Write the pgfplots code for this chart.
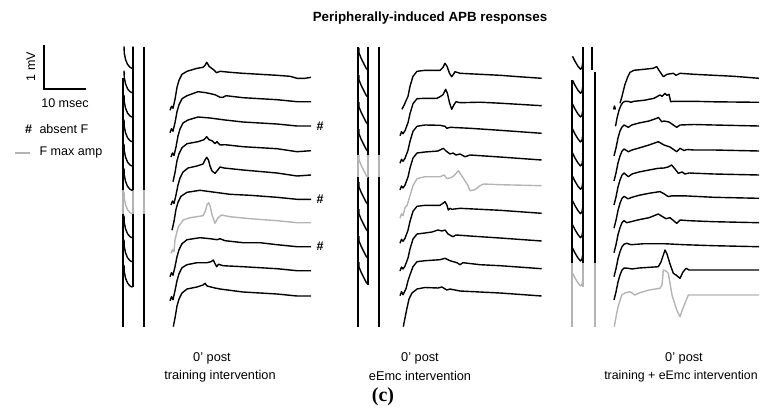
\documentclass[border=0pt]{standalone}
\usepackage{pgfplots}
\pgfplotsset{compat=1.18}
\usepackage{pgfplotstable}
\usepackage{fontspec}
\setmainfont{Liberation Sans}
\newfontfamily\serif{Liberation Serif}
\definecolor{fgray}{HTML}{B4B4B4}
% hook shapes of the stimulus artefacts (x absolute, y relative to hook bottom)
\pgfplotstableread{
x y
124 -22
124.3 -15
125.5 -9
127.5 -4
130 -1
132 0
133 -1
133 -22
}\hookA
\pgfplotstableread{
x y
359 -22
359 -17
361 -12
364 -6
366 -2
367.5 0
368 -2
368 -22
}\hookB
\pgfplotstableread{
x y
572.5 -13
575 -8
578 -3
580.5 0
582 -2
583 -8
583 -22
}\hookC
\tikzset{tr/.style={black,line width=1.4bp,line join=round},
 gr/.style={fgray,line width=1.4bp,line join=round},
 art/.style={black,line width=1.7bp},
 artg/.style={fgray,line width=1.7bp}}
\begin{document}
\begin{tikzpicture}
\useasboundingbox (0,0) rectangle (763bp,413bp);
\begin{axis}[width=763bp,height=413bp,scale only axis,xmin=0,xmax=763,ymin=0,ymax=413,
 y dir=reverse,hide axis,clip=false]
% ---------- scale bar and legend ----------
\addplot[black,line width=1.9bp] coordinates {(44.3,45) (44.3,89.3) (86,89.3)};
\addplot[fgray,line width=1.6bp] coordinates {(15,152.7) (30,152.7)};
\node[font=\fontsize{12.6}{14}\selectfont,rotate=90] at (axis cs:30.7,66.7) {1 mV};
\node[font=\fontsize{12.6}{14}\selectfont] at (axis cs:65,103) {10 msec};
\node[font=\fontsize{12.6}{14}\selectfont\bfseries] at (axis cs:28.5,129.5) {\#};
\node[font=\fontsize{12.6}{14}\selectfont,anchor=west] at (axis cs:36,129.5) {absent F};
\node[font=\fontsize{12.6}{14}\selectfont,anchor=west] at (axis cs:36,152.7) {F max amp};
% ---------- title and labels ----------
\node[font=\fontsize{13.4}{15}\selectfont\bfseries] at (axis cs:430,18) {Peripherally-induced APB responses};
\node[font=\fontsize{12.8}{15}\selectfont] at (axis cs:212,358) {0’ post};
\node[font=\fontsize{12.8}{15}\selectfont] at (axis cs:220,376) {training intervention};
\node[font=\fontsize{12.8}{15}\selectfont] at (axis cs:420,358) {0’ post};
\node[font=\fontsize{12.8}{15}\selectfont] at (axis cs:420,376) {eEmc intervention};
\node[font=\fontsize{12.8}{15}\selectfont] at (axis cs:684,358) {0’ post};
\node[font=\fontsize{12.4}{15}\selectfont] at (axis cs:681,376) {training + eEmc intervention};
\node[font=\serif\fontsize{20}{22}\selectfont\bfseries] at (axis cs:383,397) {(c)};
% # markers
\node[font=\fontsize{12.6}{14}\selectfont\bfseries] at (axis cs:320,126) {\#};
\node[font=\fontsize{12.6}{14}\selectfont\bfseries] at (axis cs:320,199.3) {\#};
\node[font=\fontsize{12.6}{14}\selectfont\bfseries] at (axis cs:320,246.7) {\#};
% ---------- panel 1 artefacts ----------
\addplot[art] coordinates {(123,78) (123,190)};
\addplot[artg] coordinates {(123,190) (123,214)};
\addplot[art] coordinates {(123,214) (123,327)};
\addplot[art] coordinates {(133,47) (133,190)};
\addplot[artg] coordinates {(133,190) (133,214)};
\addplot[art] coordinates {(133,214) (133,287)};
\addplot[art] coordinates {(144,47) (144,190)};
\addplot[artg] coordinates {(144,190) (144,214)};
\addplot[art] coordinates {(144,214) (144,327)};
\addplot[tr] table[y expr=\thisrow{y}+68.3] {\hookA};
\addplot[tr] table[y expr=\thisrow{y}+92.7] {\hookA};
\addplot[tr] table[y expr=\thisrow{y}+117] {\hookA};
\addplot[tr] table[y expr=\thisrow{y}+141.7] {\hookA};
\addplot[tr] table[y expr=\thisrow{y}+166] {\hookA};
\addplot[tr] table[y expr=\thisrow{y}+190.3] {\hookA};
\addplot[gr] table[y expr=\thisrow{y}+213.7] {\hookA};
\addplot[tr] table[y expr=\thisrow{y}+237.7] {\hookA};
\addplot[tr] table[y expr=\thisrow{y}+261.7] {\hookA};
\addplot[tr] table[y expr=\thisrow{y}+287] {\hookA};
% ---------- panel 1 traces ----------
\addplot[tr] table[x expr=\thisrow{x}+170,y expr=\thisrow{y}+77.3,row sep=\\]{x y\\
0 33\\ 1.5 29\\ 3 31\\ 5 22\\ 7 10\\ 9 3\\ 12 -3\\ 17 -6\\ 27 -9\\ 33 -10\\ 35 -12\\ 36.7 -15\\ 38 -13\\ 39 -11\\ 43 -8\\ 46.7 -4.6\\ 50 -6\\ 60 -5\\ 73 -4\\ 90 -3\\ 107 -2\\ 120 -1\\ 127 1\\ 135 1\\ 141 0\\};
\addplot[tr] table[x expr=\thisrow{x}+170,y expr=\thisrow{y}+101.7,row sep=\\]{x y\\
0 31\\ 1.5 27\\ 3 29.5\\ 5 21\\ 7 10\\ 9 3\\ 12 -3\\ 17 -6\\ 28 -10\\ 36 -9\\ 45 -7\\ 50 -4.5\\ 53 -4.4\\ 56 -6\\ 73 -4\\ 107 -2\\ 127 0\\ 141 0\\};
\addplot[tr] table[x expr=\thisrow{x}+170,y expr=\thisrow{y}+126,row sep=\\]{x y\\
1 31\\ 2.5 27\\ 4 29.5\\ 6 21\\ 8 10\\ 10 3\\ 13 -3\\ 18 -6\\ 28 -9\\ 40 -8\\ 55 -6\\ 73 -4\\ 107 -2\\ 127 0\\ 141 0\\};
\addplot[tr] table[x expr=\thisrow{x}+170,y expr=\thisrow{y}+150.7,row sep=\\]{x y\\
3 31\\ 5 22\\ 7 10\\ 9 3\\ 12 -3\\ 17 -7\\ 28 -9\\ 34 -11\\ 36.7 -14\\ 39 -11\\ 42 -10\\ 45 -7\\ 47 -9\\ 50 -5.7\\ 55 -6\\ 73 -4\\ 107 -2\\ 127 1\\ 141 0\\};
\addplot[tr] table[x expr=\thisrow{x}+170,y expr=\thisrow{y}+175,row sep=\\]{x y\\
1 30\\ 2.5 26\\ 4 28.5\\ 6 20\\ 8 10\\ 10 3\\ 13 -3\\ 18 -7\\ 27 -9\\ 33 -11\\ 35 -15\\ 36.7 -17.7\\ 38.5 -15\\ 40 -9\\ 42 -4\\ 45 -1.7\\ 47 -4\\ 50 -8\\ 54 -7\\ 73 -5\\ 107 -2\\ 127 1\\ 141 0\\};
\addplot[tr] table[x expr=\thisrow{x}+170,y expr=\thisrow{y}+199.3,row sep=\\]{x y\\
2 31\\ 4 22\\ 6 10\\ 8 3\\ 11 -3\\ 17 -7\\ 30 -9\\ 45 -7\\ 60 -5\\ 80 -4\\ 107 -2\\ 127 0\\ 141 0\\};
\addplot[gr] table[x expr=\thisrow{x}+170,y expr=\thisrow{y}+222.7,row sep=\\]{x y\\
1 30.6\\ 2.5 27\\ 4 29\\ 5 17\\ 8.3 4\\ 13.3 -2.7\\ 20 -5\\ 26.7 -6\\ 33 -7\\ 35.5 -12\\ 37 -18\\ 38.7 -20\\ 40 -17\\ 42 -8\\ 45 0.6\\ 48 -5\\ 51.7 -7.7\\ 60 -6\\ 80 -4\\ 107 -2\\ 127 0\\ 141 0\\};
\addplot[tr] table[x expr=\thisrow{x}+170,y expr=\thisrow{y}+246.7,row sep=\\]{x y\\
0 30\\ 1.5 26\\ 3 28.5\\ 5 20\\ 7 10\\ 9 3\\ 12 -3\\ 17 -7\\ 30 -9\\ 40 -8\\ 47 -7\\ 50 -8\\ 55 -6\\ 73 -4\\ 90 -4\\ 107 -2\\ 127 0\\ 141 0\\};
\addplot[tr] table[x expr=\thisrow{x}+170,y expr=\thisrow{y}+270.7,row sep=\\]{x y\\
0 30\\ 1.5 26\\ 3 29\\ 5 20\\ 7 10\\ 9 3\\ 12 -3\\ 17 -6\\ 27 -8\\ 37 -8\\ 41 -9\\ 43.3 -10.7\\ 45 -7\\ 46.7 -4\\ 48.5 -6.5\\ 50 -6\\ 53 -5\\ 73 -4\\ 107 -2\\ 127 0\\ 141 0\\};
\addplot[tr] table[x expr=\thisrow{x}+170,y expr=\thisrow{y}+296,row sep=\\]{x y\\
3.3 30.7\\ 5 22\\ 7 10\\ 9 3\\ 12 -3\\ 17 -7\\ 27 -9\\ 33 -11\\ 35 -12.7\\ 37 -10\\ 41 -9\\ 45 -8\\ 50 -7\\ 73 -4\\ 107 -2\\ 127 0\\ 141 0\\};
% ---------- panel 2 artefacts ----------
\addplot[art] coordinates {(358,47) (358,155)};
\addplot[artg] coordinates {(358,155) (358,177)};
\addplot[art] coordinates {(358,177) (358,327)};
\addplot[art] coordinates {(368,47) (368,155)};
\addplot[artg] coordinates {(368,155) (368,177)};
\addplot[art] coordinates {(368,177) (368,285)};
\addplot[art] coordinates {(379,47) (379,155)};
\addplot[artg] coordinates {(379,155) (379,177)};
\addplot[art] coordinates {(379,177) (379,327)};
\addplot[tr] table[y expr=\thisrow{y}+70] {\hookB};
\addplot[tr] table[y expr=\thisrow{y}+97] {\hookB};
\addplot[tr] table[y expr=\thisrow{y}+124] {\hookB};
\addplot[tr] table[y expr=\thisrow{y}+151] {\hookB};
\addplot[gr] table[y expr=\thisrow{y}+177] {\hookB};
\addplot[tr] table[y expr=\thisrow{y}+204] {\hookB};
\addplot[tr] table[y expr=\thisrow{y}+231] {\hookB};
\addplot[tr] table[y expr=\thisrow{y}+258] {\hookB};
\addplot[tr] table[y expr=\thisrow{y}+284] {\hookB};
% ---------- panel 2 traces ----------
\addplot[tr] table[x expr=\thisrow{x}+400,y expr=\thisrow{y}+78.3,row sep=\\]{x y\\
2 31\\ 4 27\\ 8 18\\ 10 8\\ 13 -2\\ 17 -7\\ 25 -8\\ 40 -8\\ 43 -11\\ 45 -15\\ 47 -12\\ 49.5 -5\\ 51.7 -1.6\\ 53.5 -4\\ 55 -6.6\\ 60 -5\\ 80 -4\\ 100 -3\\ 120 -1.5\\ 141.7 0\\};
\addplot[tr] table[x expr=\thisrow{x}+400,y expr=\thisrow{y}+105.7,row sep=\\]{x y\\
0 30\\ 1.5 26\\ 3 28\\ 5 25\\ 8 17\\ 10 8\\ 13 -2\\ 17 -7\\ 25 -7.4\\ 37 -7.4\\ 40 -9\\ 43 -11\\ 45.7 -16.4\\ 47.5 -12\\ 49.5 -3\\ 51.7 3.6\\ 54 -1\\ 56 -4\\ 60 -3\\ 80 -3.5\\ 100 -2.5\\ 141.7 0\\};
\addplot[tr] table[x expr=\thisrow{x}+400,y expr=\thisrow{y}+133.3,row sep=\\]{x y\\
0 30\\ 1.5 26\\ 3 28\\ 5 25\\ 8 17\\ 10 8\\ 13 -2\\ 17 -7\\ 25 -8.3\\ 40 -8\\ 45 -7\\ 47 -5\\ 50 -6\\ 70 -5\\ 100 -3\\ 141.7 0\\};
\addplot[tr] table[x expr=\thisrow{x}+400,y expr=\thisrow{y}+160,row sep=\\]{x y\\
0 30\\ 1.5 26\\ 3 28\\ 5 25\\ 8 17\\ 10 8\\ 13 -2\\ 17 -7\\ 25 -8\\ 38 -9\\ 43.3 -11.7\\ 46 -9\\ 50 -6\\ 53 -7\\ 56 -5\\ 60 -6\\ 65 -3.3\\ 70 -5\\ 100 -3\\ 141.7 0\\};
\addplot[gr] table[x expr=\thisrow{x}+400,y expr=\thisrow{y}+185.7,row sep=\\]{x y\\
0 32.6\\ 1.5 28\\ 3 30\\ 5 22\\ 7 20\\ 10 10\\ 13 0\\ 17 -7\\ 25 -9\\ 40 -9\\ 44.3 -10.7\\ 47 -7\\ 51 -8\\ 54 -10\\ 58.3 -15\\ 63 -8\\ 68 0\\ 70 5\\ 75 4\\ 80 0\\ 83.3 -1.7\\ 100 -1\\ 141.7 0\\};
\addplot[tr] table[x expr=\thisrow{x}+400,y expr=\thisrow{y}+213.3,row sep=\\]{x y\\
0 30\\ 1.5 26\\ 3 28\\ 5 25\\ 8 17\\ 10 8\\ 13 -2\\ 17 -7\\ 25 -8\\ 40 -8\\ 43 -10\\ 45 -11.6\\ 47 -8\\ 48.3 -3.3\\ 50 -5\\ 52 -4\\ 60 -5\\ 80 -4\\ 100 -3\\ 141.7 0\\};
\addplot[tr] table[x expr=\thisrow{x}+400,y expr=\thisrow{y}+241,row sep=\\]{x y\\
0 30\\ 1.5 26\\ 3 28\\ 5 25\\ 8 17\\ 10 8\\ 13 -2\\ 17 -7\\ 25 -8\\ 32 -9\\ 38 -11\\ 42 -10\\ 45 -11\\ 48 -7\\ 53 -4.3\\ 56 -6\\ 70 -5\\ 100 -3\\ 141.7 0\\};
\addplot[tr] table[x expr=\thisrow{x}+400,y expr=\thisrow{y}+268.7,row sep=\\]{x y\\
0 27\\ 1.5 23\\ 3 26\\ 6 20\\ 8 12\\ 10 6\\ 13 -2\\ 17 -7\\ 25 -8\\ 40 -9\\ 45 -10.4\\ 50 -8\\ 57 -6\\ 60 -4\\ 63 -6\\ 80 -4\\ 100 -3\\ 141.7 0\\};
\addplot[tr] table[x expr=\thisrow{x}+400,y expr=\thisrow{y}+296,row sep=\\]{x y\\
3.3 30.7\\ 5 22\\ 7 12\\ 9 3\\ 12 -3\\ 17 -7\\ 25 -8.5\\ 38 -8\\ 42 -9\\ 46.7 -6\\ 50 -7\\ 60 -5\\ 80 -4\\ 100 -3\\ 141.7 0\\};
% ---------- panel 3 artefacts ----------
\addplot[art] coordinates {(572,80) (572,263)};
\addplot[artg] coordinates {(572,263) (572,327)};
\addplot[art] coordinates {(583,47) (583,263)};
\addplot[artg] coordinates {(583,263) (583,287)};
\addplot[art] coordinates {(592,47) (592,70)};
\addplot[art] coordinates {(595,72) (595,263)};
\addplot[artg] coordinates {(595,263) (595,327)};
\addplot[tr] table[y expr=\thisrow{y}+69.3] {\hookC};
\addplot[tr] table[y expr=\thisrow{y}+93.3] {\hookC};
\addplot[tr] table[y expr=\thisrow{y}+117] {\hookC};
\addplot[tr] table[y expr=\thisrow{y}+142] {\hookC};
\addplot[tr] table[y expr=\thisrow{y}+166] {\hookC};
\addplot[tr] table[y expr=\thisrow{y}+189.3] {\hookC};
\addplot[tr] table[y expr=\thisrow{y}+213.7] {\hookC};
\addplot[tr] table[y expr=\thisrow{y}+237.7] {\hookC};
\addplot[tr] table[y expr=\thisrow{y}+261] {\hookC};
\addplot[gr] table[y expr=\thisrow{y}+286] {\hookC};
% ---------- panel 3 traces ----------
\addplot[tr] table[x expr=\thisrow{x}+614,y expr=\thisrow{y}+78.3,row sep=\\]{x y\\
6 25\\ 8 18\\ 11 6\\ 14 -2\\ 16 -6\\ 20 -8\\ 30 -9\\ 39.3 -10\\ 42.7 -11.7\\ 45 -8\\ 49.3 -1.6\\ 53 -4\\ 59.3 -5\\ 62 -3\\ 64 -4\\ 66 -5\\ 80 -4\\ 100 -3\\ 120 -2\\ 145 0\\};
\addplot[tr] coordinates {(613.5,109.5) (614.5,106) (615.5,109.5)};
\addplot[tr] table[x expr=\thisrow{x}+614,y expr=\thisrow{y}+102.3,row sep=\\]{x y\\
1.5 24\\ 3 16\\ 5 8\\ 7 3\\ 9 0\\ 11 -1\\ 14 -1\\ 17 0\\ 20 -1\\ 30 -2\\ 40 -4\\ 46 -7.3\\ 48 -6\\ 51 -9\\ 53 -7\\ 55 -8\\ 56.7 -0.6\\ 60 -1\\ 80 -1\\ 100 -0.5\\ 145 0\\};
\addplot[tr] table[x expr=\thisrow{x}+614,y expr=\thisrow{y}+126,row sep=\\]{x y\\
0 30\\ 2 22\\ 4 12\\ 6 5\\ 8 1\\ 10 -1\\ 14.3 1.3\\ 17.7 -1\\ 25 -3\\ 35 -5\\ 42.7 -7.7\\ 44.5 -8.5\\ 47.7 -4.3\\ 50 -5\\ 55 -4\\ 62.7 1.3\\ 66 -1\\ 80 -1.5\\ 100 -1\\ 145 0\\};
\addplot[tr] table[x expr=\thisrow{x}+614,y expr=\thisrow{y}+151,row sep=\\]{x y\\
0 30\\ 2 22\\ 4 12\\ 6 5\\ 8 0\\ 10 -2\\ 14.3 0.7\\ 18 -1\\ 25 -3\\ 35 -6\\ 44.3 -9.3\\ 50 -6\\ 56 -4\\ 62.7 0.7\\ 66 -2.7\\ 70 -0.5\\ 73 -1.5\\ 80 -1\\ 100 -1\\ 145 0\\};
\addplot[tr] table[x expr=\thisrow{x}+614,y expr=\thisrow{y}+175,row sep=\\]{x y\\
0 30\\ 2 22\\ 4 12\\ 6 5\\ 8 0\\ 10 -2\\ 14.3 1.7\\ 18 -1\\ 25 -3\\ 35 -5\\ 44.3 -6.7\\ 50 -7\\ 54 -8\\ 57.7 -10\\ 61 -6\\ 64.3 -1.7\\ 68 -3\\ 71 -1\\ 75 -2\\ 100 -1\\ 145 0\\};
\addplot[tr] table[x expr=\thisrow{x}+614,y expr=\thisrow{y}+198.3,row sep=\\]{x y\\
0 30\\ 2 22\\ 4 12\\ 6 5\\ 8 0\\ 10 -2\\ 14 0.5\\ 18 -1\\ 25 -3\\ 35 -5\\ 46 -6.7\\ 50 -4.5\\ 54.3 -1.7\\ 58 -2.5\\ 70 -2.5\\ 100 -1\\ 145 0\\};
\addplot[tr] table[x expr=\thisrow{x}+614,y expr=\thisrow{y}+222.7,row sep=\\]{x y\\
0 30\\ 2 22\\ 4 12\\ 6 5\\ 8 0\\ 10 -2\\ 12.7 0\\ 17 -1\\ 25 -3\\ 35 -5\\ 44.3 -8.7\\ 47 -7\\ 52 -4\\ 56 -5\\ 62.7 0.6\\ 66 -2.7\\ 75 -2\\ 100 -1\\ 145 0\\};
\addplot[tr] table[x expr=\thisrow{x}+614,y expr=\thisrow{y}+246.7,row sep=\\]{x y\\
0 30\\ 2 22\\ 4 12\\ 6 5\\ 8 0\\ 10 -2.5\\ 12.7 -3.4\\ 17 -2\\ 30 -3\\ 50 -3\\ 70 -2\\ 100 -1\\ 145 0\\};
\addplot[tr] table[x expr=\thisrow{x}+614,y expr=\thisrow{y}+270,row sep=\\]{x y\\
0 30\\ 2 22\\ 4 12\\ 6 5\\ 8 0\\ 10 -2\\ 14.3 -1.7\\ 18 -1\\ 25 -2\\ 40 -3\\ 44.3 -3.3\\ 47 -8\\ 51 -20\\ 53 -16\\ 56 -6\\ 59.3 3.3\\ 62 5\\ 66 8.3\\ 69 2\\ 72 -1.7\\ 75 0\\ 100 0\\ 145 0\\};
\addplot[gr] table[x expr=\thisrow{x}+614,y expr=\thisrow{y}+295,row sep=\\]{x y\\
0.3 31.7\\ 2 22\\ 4 12\\ 7.7 0\\ 11 -2\\ 16 -3.3\\ 21 0\\ 25 -2\\ 35 -5\\ 46 -6.7\\ 48 -10\\ 49.3 -25\\ 52 -24\\ 54.3 -21.7\\ 58 0\\ 62.7 15\\ 66 21.7\\ 69 13\\ 71 8.3\\ 74.3 0\\ 80 0\\ 100 0\\ 145 0\\};
\end{axis}
\end{tikzpicture}
\end{document}
